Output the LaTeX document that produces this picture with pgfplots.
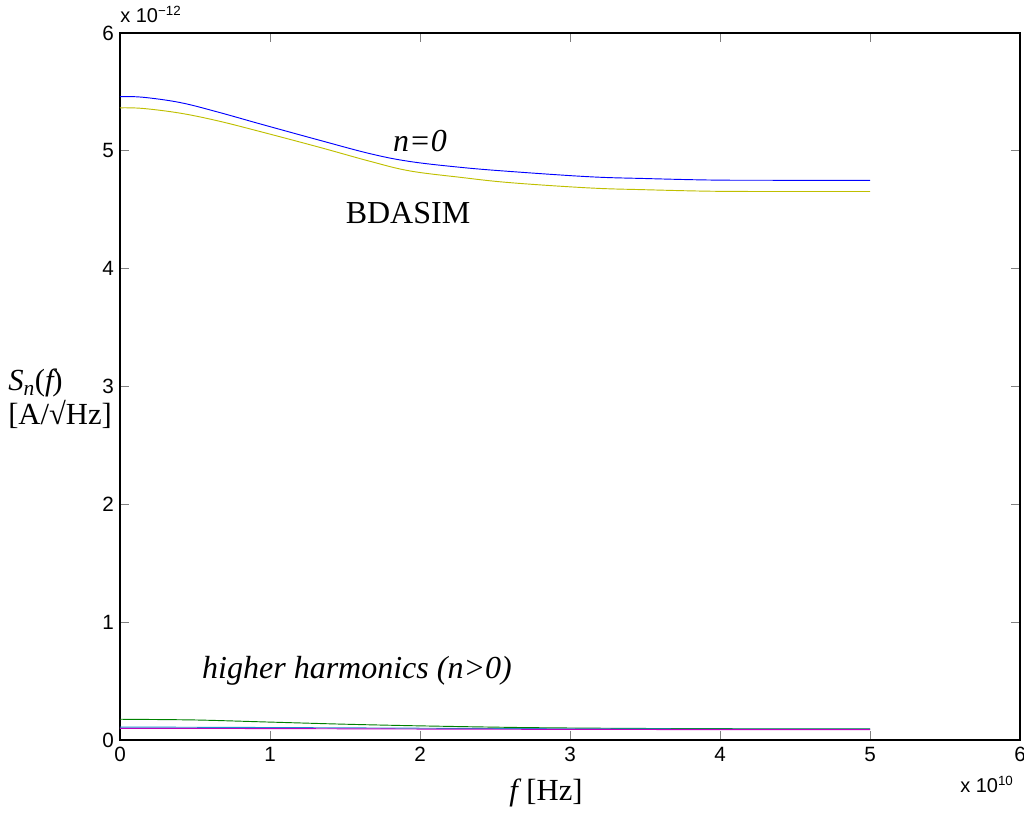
\documentclass[border=0pt]{standalone}
\usepackage{pgfplots}
\pgfplotsset{compat=1.18}
\usepackage{fontspec}
\setmainfont{Liberation Serif}
\newfontfamily\arial{Liberation Sans}
\definecolor{myyel}{rgb}{0.75,0.75,0}
\definecolor{mygreen}{rgb}{0,0.5,0}
\definecolor{mycyan}{rgb}{0.1,0.55,0.8}
\definecolor{mymag}{rgb}{0.75,0,0.75}
\begin{document}
\begin{tikzpicture}
\begin{axis}[
  at={(0,0)}, anchor=south west,
  scale only axis, width=675pt, height=530.25pt,
  xmin=0, xmax=6, ymin=0, ymax=6,
  xtick={0,1,2,3,4,5,6}, ytick={0,1,2,3,4,5,6},
  tick align=inside, major tick length=7pt,
  tick style={gray, line width=0.6pt},
  axis line style={black, line width=0.8pt},
  /pgf/number format/assume math mode=true,
  ticklabel style={font=\arial\fontsize{15.5}{17}\selectfont},
  xticklabel style={yshift=-2pt},
  yticklabel style={xshift=-1pt},
  clip=false,
]
% n=0 (blue)
\addplot[blue, line width=0.7pt, smooth, tension=0.6] coordinates {
(0,5.46) (0.15,5.455) (0.4,5.41) (0.65,5.33) (0.93,5.23) (1.33,5.09) (1.67,4.975)
(1.93,4.91) (2.27,4.86) (2.6,4.825) (3.13,4.78) (3.5,4.765) (3.95,4.752) (4.4,4.75) (5,4.75)};
% BDASIM (yellow)
\addplot[myyel, line width=0.7pt, smooth, tension=0.6] coordinates {
(0,5.365) (0.15,5.36) (0.4,5.32) (0.65,5.255) (0.93,5.165) (1.33,5.03) (1.67,4.91)
(1.93,4.83) (2.27,4.775) (2.6,4.73) (3.13,4.685) (3.5,4.67) (3.95,4.657) (4.4,4.655) (5,4.655)};
% higher harmonics
\addplot[mygreen, line width=0.7pt, smooth] coordinates {
(0,0.176) (0.5,0.17) (1,0.152) (1.5,0.134) (2,0.12) (2.67,0.106) (3.33,0.099) (4,0.096) (5,0.094)};
\addplot[mycyan, line width=0.7pt] coordinates {
(0,0.11) (1,0.106) (2,0.100) (3,0.095) (4,0.093) (5,0.092)};
\addplot[mymag, line width=0.7pt] coordinates {
(0,0.099) (1,0.097) (2,0.093) (3,0.090) (4,0.088) (5,0.088)};
% annotations
\node[font=\fontsize{24}{28}\selectfont\itshape] at (axis cs:2.0,5.08) {n=0};
\node[font=\fontsize{24}{28}\selectfont] at (axis cs:1.92,4.47) {BDASIM};
\node[font=\fontsize{24}{28}\selectfont\itshape] at (axis cs:1.58,0.585) {higher harmonics (n>0)};
\end{axis}
% y label
\node[anchor=west, align=left, font=\fontsize{23}{25}\selectfont, inner sep=0pt]
  at (-84pt,256pt) {\textit{S\textsubscript{n}}(\textit{f\kern-1pt})\\{}[A/√Hz]};
% x label
\node[font=\fontsize{23}{26}\selectfont] at (319.5pt,-40pt) {\textit{f}\,[Hz]};
% multipliers
\node[anchor=base west, inner sep=0pt, font=\arial\fontsize{15}{17}\selectfont] at (0pt,538pt) {x 10\textsuperscript{\fontsize{10}{11}\selectfont −12}};
\node[anchor=base west, inner sep=0pt, font=\arial\fontsize{15}{17}\selectfont] at (630pt,-39pt) {x 10\textsuperscript{\fontsize{10}{11}\selectfont 10}};
\pgfresetboundingbox
\path[use as bounding box] (-90pt,-55.5pt) rectangle (678pt,24.75pt+530.25pt);
\end{tikzpicture}
\end{document}
